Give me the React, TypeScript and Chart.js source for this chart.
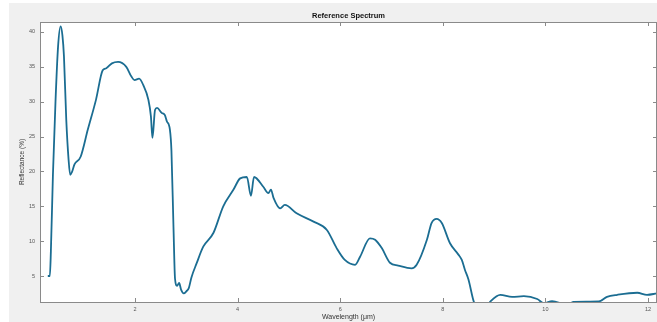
import React, { useEffect, useRef } from "react";
import { Chart, registerables } from "chart.js";

Chart.register(...registerables);

const wavelength = [
  0.30, 0.34, 0.36, 0.40, 0.45, 0.50, 0.55, 0.585, 0.615, 0.66,
  0.705, 0.737, 0.77, 0.82, 0.94, 1.08, 1.24, 1.37, 1.44, 1.55,
  1.67, 1.83, 1.93, 1.99, 2.08, 2.16, 2.26, 2.31, 2.34, 2.39,
  2.43, 2.52, 2.58, 2.62, 2.68, 2.71, 2.75, 2.78, 2.82, 2.86,
  2.90, 2.95, 3.00, 3.05, 3.10, 3.20, 3.33, 3.53, 3.72, 3.92,
  4.05, 4.18, 4.26, 4.32, 4.50, 4.60, 4.65, 4.70, 4.83, 4.92,
  5.15, 5.48, 5.74, 5.93, 6.09, 6.29, 6.39, 6.58, 6.68, 6.81,
  6.97, 7.13, 7.39, 7.49, 7.69, 7.78, 7.88, 7.98, 8.14, 8.30,
  8.37, 8.43, 8.50, 8.61, 8.75, 8.85, 8.93, 9.12, 9.35, 9.58,
  9.84, 9.97, 10.13, 10.29, 10.38, 10.45, 10.55, 11.04, 11.20, 11.40,
  11.79, 11.98, 12.17,
];

const reflectance = [
  5.0, 5.0, 8.5, 19.5, 30, 37.9, 40.8, 39.5, 36.5, 27.4,
  21.7, 19.5, 19.9, 21.0, 22.1, 26.0, 30.3, 34.5, 34.8, 35.5,
  35.7, 35.0, 33.6, 33.1, 33.3, 32.4, 30.3, 27.9, 24.8, 28.8,
  29.1, 28.4, 28.1, 27.2, 26.0, 23.0, 12, 4.6, 3.6, 4.0,
  3.0, 2.5, 2.8, 3.3, 4.8, 6.8, 9.2, 11.2, 15.0, 17.4,
  19.0, 19.2, 16.5, 19.2, 17.8, 16.9, 17.4, 16.2, 14.7, 15.2,
  14.0, 12.8, 11.6, 9.0, 7.3, 6.6, 7.8, 10.4, 10.2, 9.0,
  6.9, 6.5, 6.1, 6.6, 10.2, 12.6, 13.2, 12.6, 9.7, 8.1,
  7.3, 5.9, 4.5, 1.2, 0.4, 0.6, 1.36, 2.3, 2.0, 2.1,
  1.7, 1.1, 1.4, 1.1, 0.8, 0.9, 1.3, 1.35, 2.0, 2.3,
  2.6, 2.3, 2.5,
];

const xTicks = [2, 4, 6, 8, 10, 12];
const yTicks = [5, 10, 15, 20, 25, 30, 35, 40];

const FONT = "'Liberation Sans', Arial, Helvetica, sans-serif";

const framePlugin = {
  id: "matlabFrame",
  beforeDraw(chart: any) {
    const { ctx, chartArea, width, height } = chart;
    ctx.save();
    ctx.fillStyle = "#ffffff";
    ctx.fillRect(0, 0, width, height);
    ctx.fillStyle = "#f0f0f0";
    ctx.fillRect(9, 3, width - 9, height - 3);
    ctx.fillStyle = "#ffffff";
    ctx.fillRect(chartArea.left, chartArea.top, chartArea.right - chartArea.left, chartArea.bottom - chartArea.top);
    ctx.restore();
  },
  afterDraw(chart: any) {
    const { ctx, chartArea } = chart;
    const xs = chart.scales.x;
    const ys = chart.scales.y;
    const L = chartArea.left, R = chartArea.right, T = chartArea.top, B = chartArea.bottom;
    ctx.save();
    ctx.strokeStyle = "#8a8a8a";
    ctx.lineWidth = 1;
    ctx.strokeRect(Math.round(L) + 0.5, Math.round(T) + 0.5, Math.round(R - L) - 1, Math.round(B - T));
    ctx.beginPath();
    const tl = 4;
    xTicks.forEach((v) => {
      const px = Math.round(xs.getPixelForValue(v)) + 0.5;
      ctx.moveTo(px, B);
      ctx.lineTo(px, B - tl);
      ctx.moveTo(px, T);
      ctx.lineTo(px, T + tl);
    });
    yTicks.forEach((v) => {
      const py = Math.round(ys.getPixelForValue(v)) + 0.5;
      ctx.moveTo(L, py);
      ctx.lineTo(L + tl, py);
      ctx.moveTo(R, py);
      ctx.lineTo(R - tl, py);
    });
    ctx.stroke();
    ctx.restore();
  },
};

export default function App() {
  const ref = useRef<HTMLCanvasElement | null>(null);

  useEffect(() => {
    document.body.style.margin = "0";
    const canvas = ref.current;
    if (!canvas) return;
    const points = wavelength.map((x, i) => ({ x, y: reflectance[i] }));
    const chart = new Chart(canvas, {
      type: "line",
      data: {
        datasets: [
          {
            data: points,
            borderColor: "#1b6d92",
            borderWidth: 1.8,
            pointRadius: 0,
            fill: false,
            cubicInterpolationMode: "monotone",
            clip: 0,
          } as any,
        ],
      },
      options: {
        animation: false,
        responsive: false,
        maintainAspectRatio: false,
        layout: { padding: 0 },
        plugins: {
          legend: { display: false },
          tooltip: { enabled: false },
          title: {
            display: true,
            text: "Reference Spectrum",
            color: "#111",
            fullSize: false,
            font: { family: FONT, size: 7.5, weight: "bold" },
            padding: { top: 11.5, bottom: 1.5 },
          },
        },
        scales: {
          x: {
            type: "linear",
            min: 0.148,
            max: 12.175,
            grid: { display: false, drawTicks: false, tickLength: 0 },
            border: { display: false },
            ticks: {
              font: { family: FONT, size: 5.5 },
              color: "#555",
              padding: 4,
              autoSkip: false,
              maxRotation: 0,
            },
            afterBuildTicks: (s: any) => {
              s.ticks = xTicks.map((v) => ({ value: v }));
            },
            afterFit: (s: any) => {
              s.height = 20;
            },
            title: {
              display: true,
              text: "Wavelength (\u03bcm)",
              color: "#333",
              font: { family: FONT, size: 7 },
              padding: { top: 0, bottom: 0.5 },
            },
          },
          y: {
            type: "linear",
            min: 1.27,
            max: 41.43,
            grid: { display: false, drawTicks: false, tickLength: 0 },
            border: { display: false },
            ticks: {
              font: { family: FONT, size: 5.5 },
              color: "#555",
              padding: 5,
              autoSkip: false,
            },
            afterBuildTicks: (s: any) => {
              s.ticks = yTicks.map((v) => ({ value: v }));
            },
            afterFit: (s: any) => {
              s.width = 40;
            },
            title: {
              display: true,
              text: "Reflectance (%)",
              color: "#333",
              font: { family: FONT, size: 6.5 },
              padding: { top: 18, bottom: 0 },
            },
          },
        },
      },
      plugins: [framePlugin],
    });
    return () => chart.destroy();
  }, []);

  return (
    <div style={{ width: 657, height: 322 }}>
      <canvas ref={ref} width={657} height={322} style={{ display: "block", width: 657, height: 322 }} />
    </div>
  );
}
